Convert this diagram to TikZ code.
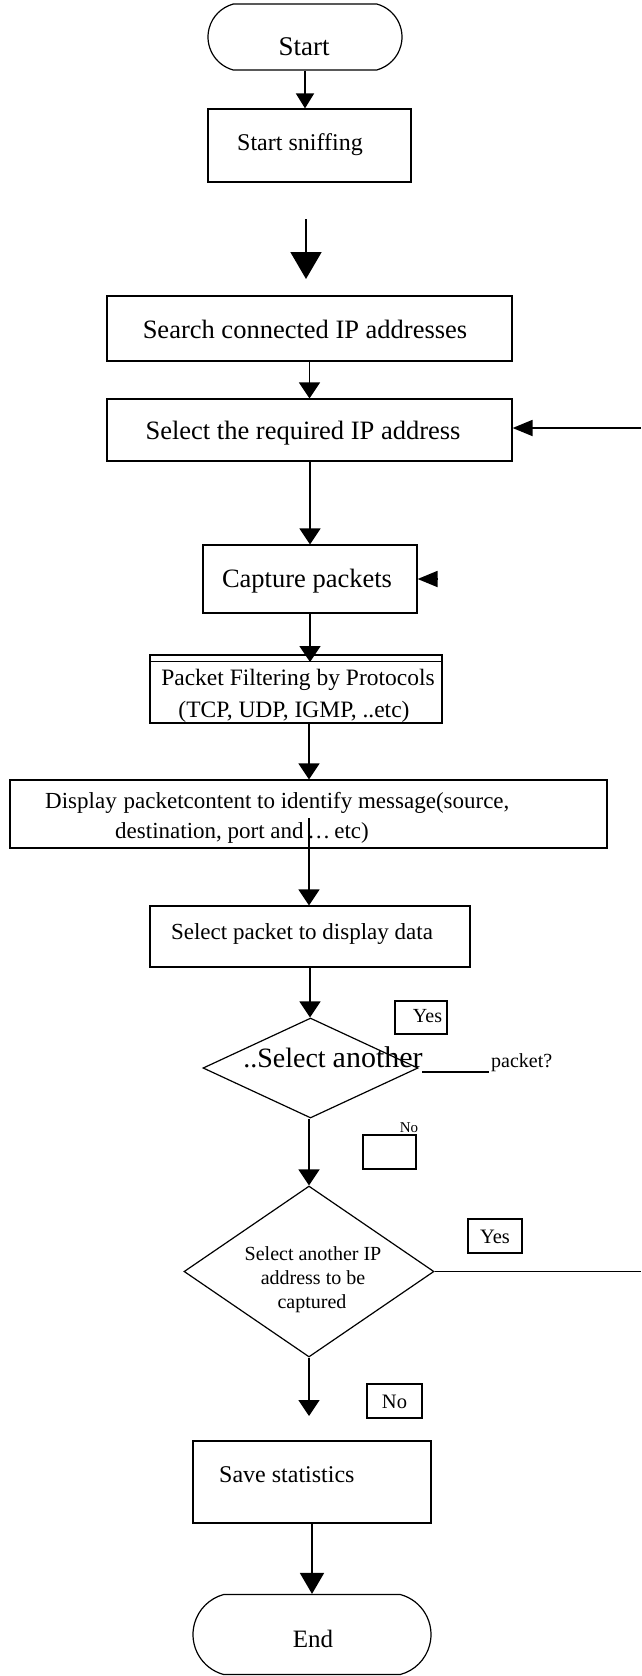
\documentclass[tikz,border=0pt]{standalone}
\usepackage{fontspec}
\setmainfont{Liberation Serif}
\usetikzlibrary{arrows.meta,shapes.geometric,shapes.misc}
\newcommand\fz[1]{\fontsize{#1}{#1}\selectfont}
\begin{document}
\begin{tikzpicture}[x=1pt,y=-1pt,
  box/.style={draw,line width=1.2pt,rectangle,inner sep=0pt},
  term/.style={draw,line width=1.2pt,rounded rectangle,rounded rectangle arc length=150,inner sep=0pt},
  dia/.style={draw,line width=1.2pt,diamond,inner sep=0pt},
  txt/.style={inner sep=0pt,anchor=base},
  txtw/.style={inner sep=0pt,anchor=base west},
  conn/.style={line width=1.8pt},
  arr/.style={conn,-{Triangle[length=16pt,width=21pt]}},
  smallarr/.style={conn,-{Triangle[length=15pt,width=18pt]}},
  bigarr/.style={conn,-{Triangle[length=27pt,width=31pt]}},
  endarr/.style={conn,-{Triangle[length=21pt,width=24pt]}},
  headonly/.style={conn,-{Triangle[length=20pt,width=16pt]}}
]
\useasboundingbox (0,0) rectangle (641,1676);

% Start
\node[term, minimum width=194pt, minimum height=66pt] (start) at (305,37) {};
\node[txt, font={\fz{27}}] (startT) at (304,55) {Start};

% Start sniffing
\node[box, minimum width=203pt, minimum height=73pt] (sniff) at (309.5,145.5) {};
\node[txt, font={\fz{24}}] (sniffT) at (300,150) {Start sniffing};
\draw[smallarr] (start.south) -- (start.south |- sniff.north);

% free big arrow
\coordinate (a1) at (306,219);
\coordinate (a2) at (306,279);
\draw[bigarr] (a1) -- (a2);

% Search
\node[box, minimum width=405pt, minimum height=65pt] (search) at (309.5,328.5) {};
\node[txt, font={\fz{26.5}}] (searchT) at (305,338) {Search connected IP addresses};

% Select IP
\node[box, minimum width=405pt, minimum height=62pt] (select) at (309.5,430) {};
\node[txt, font={\fz{26.5}}] (selectT) at (303,439) {Select the required IP address};
\draw[arr] (search.south) -- (select.north);

\coordinate (rtop) at (641,428);
\draw[headonly] (rtop) -- (rtop -| select.east);

% Capture
\node[box, minimum width=214pt, minimum height=68pt] (capture) at (310,579) {};
\node[txt, font={\fz{26.5}}] (captureT) at (307,587) {Capture packets};
\draw[arr] (capture.north |- select.south) -- (capture.north);
\coordinate (yesIn) at (438,579);
\draw[headonly] (yesIn) -- (capture.east);

% Filter
\node[box, minimum width=292pt, minimum height=68pt] (filter) at (296,689) {};
\draw[line width=1.2pt] ([yshift=-7pt]filter.north west) -- ([yshift=-7pt]filter.north east);
\coordinate (fin) at (310,662);
\node[txt, font={\fz{23.5}}] (filterT1) at (298,685) {Packet Filtering by Protocols};
\node[txt, font={\fz{23.5}}] (filterT2) at (294,717) {(TCP, UDP, IGMP, ..etc)};
\draw[arr] (capture.south) -- (capture.south |- fin);

% Display
\node[box, minimum width=597pt, minimum height=68pt] (display) at (308.5,814) {};
\node[txtw, font={\fz{23}}] (displayT1) at (45,808) {Display\hspace{0.3em}packetcontent to identify message(source,};
\node[txtw, font={\fz{23}}] (displayT2) at (115,838) {destination, port and\,\ldots\,etc)};
\coordinate (fout) at (309,723);
\draw[arr] (fout) -- (fout |- display.north);

% Select packet
\node[box, minimum width=320pt, minimum height=61pt] (selpkt) at (310,936.5) {};
\node[txt, font={\fz{23}}] (selpktT) at (302,939) {Select packet to display data};
\coordinate (dstart) at (309,818);
\draw[arr] (dstart) -- (dstart |- selpkt.north);

% Diamond 1
\node[dia, minimum width=215pt, minimum height=100pt] (d1) at (310.5,1068) {};
\node[txt, font={\fz{28}}] (d1T) at (333,1067) {..Select {\fz{30}another}};
\draw[arr] (selpkt.south) -- (selpkt.south |- d1.north);

\node[box, minimum width=52pt, minimum height=33pt] (yes1) at (421,1017.5) {};
\node[txt, font={\fz{20}}] (yes1T) at (427.5,1022) {Yes};
\coordinate (s1) at (422,1072);
\coordinate (s2) at (489,1072);
\draw[conn] (s1) -- (s2);
\node[txtw, font={\fz{20}}] (pktq) at (491,1067) {packet?};

\node[box, minimum width=53pt, minimum height=34pt] (no1) at (389.5,1152) {};
\node[txt, font={\fz{15}}] (no1T) at (409,1132) {No};

% Diamond 2
\node[dia, minimum width=250pt, minimum height=171pt] (d2) at (309,1271.5) {};
\node[txt, font={\fz{20}}] (d2T1) at (313,1260) {Select another IP};
\node[txt, font={\fz{20}}] (d2T2) at (313,1284) {address to be};
\node[txt, font={\fz{20}}] (d2T3) at (312,1308) {captured};
\draw[arr] (d2.north |- d1.south) -- (d2.north);

\node[box, minimum width=54pt, minimum height=34pt] (yes2) at (495,1236) {};
\node[txt, font={\fz{20.5}}] (yes2T) at (495,1243) {Yes};
\coordinate (rbot) at (641,1271.5);
\draw[conn] (d2.east) -- (rbot);

\node[box, minimum width=55pt, minimum height=34pt] (no2) at (394.5,1401) {};
\node[txt, font={\fz{20.5}}] (no2T) at (394.5,1408) {No};

\coordinate (a3) at (309,1416);
\draw[arr] (d2.south) -- (a3);

% Save
\node[box, minimum width=238pt, minimum height=82pt] (save) at (312,1482) {};
\node[txtw, font={\fz{24}}] (saveT) at (219,1482) {Save statistics};

% End
\node[term, minimum width=238pt, minimum height=80pt] (end) at (312,1634.5) {};
\node[txt, font={\fz{25}}] (endT) at (313,1647) {End};
\draw[endarr] (save.south) -- (end.north);
\end{tikzpicture}
\end{document}
